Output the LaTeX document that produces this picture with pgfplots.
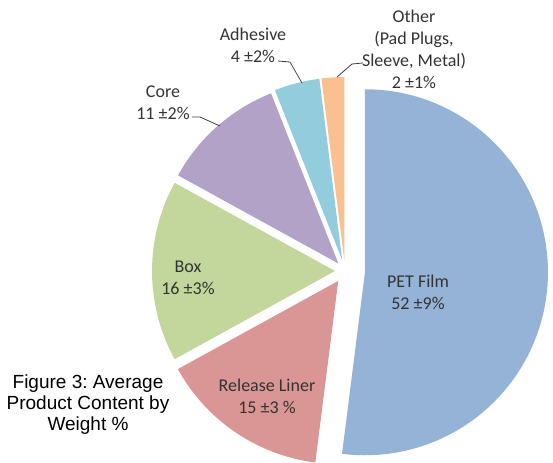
\documentclass[border=0pt]{standalone}
\usepackage{pgfplots}
\pgfplotsset{compat=1.18}
\usepackage{pgfplotstable}
\usepackage{fontspec}
\setmainfont{Carlito}
\newfontfamily\arialfont{Liberation Sans}
\frenchspacing

\definecolor{slice0}{HTML}{95B3D7} % PET Film
\definecolor{slice1}{HTML}{D99694} % Release Liner
\definecolor{slice2}{HTML}{C3D69B} % Box
\definecolor{slice3}{HTML}{B3A2C7} % Core
\definecolor{slice4}{HTML}{93CDDD} % Adhesive
\definecolor{slice5}{HTML}{FAC090} % Other
\definecolor{labeltext}{HTML}{333333}
\definecolor{leader}{HTML}{404040}

% share in %, explosion offset in px
\pgfplotstableread{
name      value explode
PET       52    20
Release   15    12
Box       16    10
Core      11    10
Adhesive  4     11
Other     2     11
}\piedata

% pie centre and radius (px, y up)
\def\cx{345}
\def\cy{191}
\def\rad{137.25pt}

\begin{document}
\begin{tikzpicture}
% slice angles, clockwise from 12 o'clock
\pgfmathsetmacro\cum{0}
\pgfplotsforeachungrouped \i in {0,...,5}{%
  \pgfplotstablegetelem{\i}{value}\of\piedata \let\v\pgfplotsretval
  \pgfplotstablegetelem{\i}{explode}\of\piedata \let\d\pgfplotsretval
  \pgfmathsetmacro\a{90-3.6*\cum}%
  \pgfmathsetmacro\b{\a-3.6*\v}%
  \pgfmathsetmacro\m{(\a+\b)/2}%
  \pgfmathsetmacro\px{\cx+\d*cos(\m)}%
  \pgfmathsetmacro\py{\cy+\d*sin(\m)}%
  \expandafter\xdef\csname pa\i\endcsname{\a}%
  \expandafter\xdef\csname pb\i\endcsname{\b}%
  \expandafter\xdef\csname px\i\endcsname{\px}%
  \expandafter\xdef\csname py\i\endcsname{\py}%
  \pgfmathsetmacro\cum{\cum+\v}%
}
\begin{axis}[
    x=0.75pt, y=0.75pt,
    xmin=0, xmax=553, ymin=0, ymax=462,
    hide axis, clip=false]
\coordinate (bl) at (axis cs:0,0);
\coordinate (tr) at (axis cs:553,462);
\pgfplotsinvokeforeach{0,...,5}{%
  \edef\temp{\noexpand\fill[slice#1] (axis cs:\csname px#1\endcsname,\csname py#1\endcsname)
    -- ++(\csname pa#1\endcsname:\rad)
    arc[start angle=\csname pa#1\endcsname, end angle=\csname pb#1\endcsname, radius=\rad] -- cycle;}%
  \temp
}
% leader lines
\draw[leader, line width=0.6pt] (axis cs:192,345) -- (axis cs:200,345) -- (axis cs:220,336);
\draw[leader, line width=0.6pt] (axis cs:278,401) -- (axis cs:290,400) -- (axis cs:302,379);
\draw[leader, line width=0.6pt] (axis cs:363,399) -- (axis cs:352,398) -- (axis cs:337,385);
% slice labels
\begin{scope}[every node/.style={align=center, text=labeltext, font=\fontsize{13.5}{16.5}\selectfont}]
\node at (axis cs:418,170) {PET Film\\52 ±9\%};
\node at (axis cs:267,66) {Release Liner\\15 ±3 \%};
\node at (axis cs:188,184.5) {Box\\16 ±3\%};
\node at (axis cs:163,359) {Core\\11 ±2\%};
\node at (axis cs:253,417) {Adhesive\\4 ±2\%};
\node at (axis cs:414,413) {Other\\(Pad Plugs,\\Sleeve, Metal)\\2 ±1\%};
\end{scope}
\node[align=center, font=\arialfont\fontsize{14.25}{15.75}\selectfont] at (axis cs:88,57) {Figure 3: Average\\Product Content by\\Weight \%};
\end{axis}
\pgfresetboundingbox
\path[use as bounding box] (bl) rectangle (tr);
\end{tikzpicture}
\end{document}
